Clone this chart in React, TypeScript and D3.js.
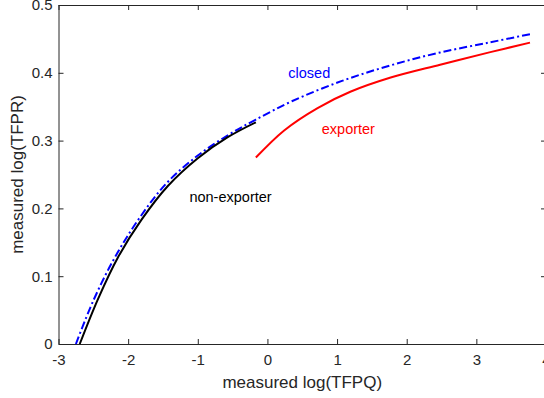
import * as d3 from "d3";
import { useEffect, useRef } from "react";

// measured log(TFPQ) / log(TFPR)
const nonExpX = [-2.695, -2.43, -2.145, -1.81, -1.43, -1.0, -0.57, -0.166];
const nonExpY = [0.0, 0.067, 0.128, 0.183, 0.233, 0.274, 0.305, 0.327];

const closedX = [-2.75, -2.5, -2.2, -1.85, -1.45, -1.0, -0.55, -0.166, 0.35, 1.07, 1.77, 2.48, 3.2, 3.77];
const closedY = [0.0, 0.064, 0.126, 0.184, 0.237, 0.278, 0.309, 0.331, 0.358, 0.388, 0.411, 0.43, 0.445, 0.457];

const expX = [-0.166, 0.24, 0.72, 1.19, 1.77, 2.48, 3.2, 3.77];
const expY = [0.275, 0.315, 0.348, 0.372, 0.393, 0.412, 0.4305, 0.4445];

const xTicks = [-3, -2, -1, 0, 1, 2, 3, 4];
const yTicks = [0, 0.1, 0.2, 0.3, 0.4, 0.5];

const labels = [
  { text: "closed", x: 0.3, y: 0.392, color: "#0000ff" },
  { text: "exporter", x: 0.78, y: 0.31, color: "#ff0000" },
  { text: "non-exporter", x: -1.12, y: 0.21, color: "#000000" },
];

type Pt = [number, number];
const zip = (xs: number[], ys: number[]): Pt[] => xs.map((v, i) => [v, ys[i]]);

export default function App() {
  const ref = useRef<HTMLDivElement>(null);

  useEffect(() => {
    if (!ref.current) return;
    ref.current.innerHTML = "";

    const W = 544, H = 398;
    const left = 58.5, right = 546, top = 5, bottom = 344;
    const axisColor = "#262626";
    const font = "'Liberation Sans', Arial, Helvetica, sans-serif";

    const svg = d3
      .select(ref.current)
      .append("svg")
      .attr("width", W)
      .attr("height", H)
      .style("display", "block")
      .style("font-family", font);

    svg.append("rect").attr("width", W).attr("height", H).attr("fill", "#fff");

    const x = d3.scaleLinear().domain([-3, 4]).range([left, right]);
    const y = d3.scaleLinear().domain([0, 0.5]).range([bottom, top]);

    const styleAxis = (g: d3.Selection<SVGGElement, unknown, null, undefined>) => {
      g.selectAll("path").attr("stroke", axisColor);
      g.selectAll("line").attr("stroke", axisColor);
      g.selectAll("text")
        .attr("fill", axisColor)
        .style("font-size", "15px")
        .style("font-family", font);
    };

    svg.append("g")
      .attr("transform", `translate(0,${bottom})`)
      .call(d3.axisBottom(x).tickValues(xTicks).tickSizeInner(-5).tickSizeOuter(0).tickPadding(10).tickFormat((d) => String(+d)))
      .call(styleAxis);

    svg.append("g")
      .attr("transform", `translate(0,${top})`)
      .call(d3.axisTop(x).tickValues(xTicks).tickSizeInner(-5).tickSizeOuter(0).tickFormat(() => ""))
      .call(styleAxis);

    svg.append("g")
      .attr("transform", `translate(${left},0)`)
      .call(d3.axisLeft(y).tickValues(yTicks).tickSizeInner(-5).tickSizeOuter(0).tickPadding(6).tickFormat((d) => String(+d)))
      .call(styleAxis);

    svg.append("g")
      .attr("transform", `translate(${right},0)`)
      .call(d3.axisRight(y).tickValues(yTicks).tickSizeInner(-5).tickSizeOuter(0).tickFormat(() => ""))
      .call(styleAxis);

    const line = d3
      .line<Pt>()
      .x((d) => x(d[0]))
      .y((d) => y(d[1]))
      .curve(d3.curveCatmullRom.alpha(0.5));

    svg.append("path")
      .datum(zip(closedX, closedY))
      .attr("fill", "none")
      .attr("stroke", "#0000ff")
      .attr("stroke-width", 2)
      .attr("stroke-dasharray", "8,3,2,3")
      .attr("d", line);

    svg.append("path")
      .datum(zip(nonExpX, nonExpY))
      .attr("fill", "none")
      .attr("stroke", "#000000")
      .attr("stroke-width", 2)
      .attr("d", line);

    svg.append("path")
      .datum(zip(expX, expY))
      .attr("fill", "none")
      .attr("stroke", "#ff0000")
      .attr("stroke-width", 2)
      .attr("d", line);

    labels.forEach((l) => {
      svg.append("text")
        .attr("x", x(l.x))
        .attr("y", y(l.y))
        .attr("fill", l.color)
        .style("font-size", "14.5px")
        .text(l.text);
    });

    svg.append("text")
      .attr("x", (left + right) / 2)
      .attr("y", 388)
      .attr("text-anchor", "middle")
      .attr("fill", axisColor)
      .style("font-size", "17px")
      .text("measured log(TFPQ)");

    svg.append("text")
      .attr("transform", `translate(23,${(top + bottom) / 2}) rotate(-90)`)
      .attr("text-anchor", "middle")
      .attr("fill", axisColor)
      .style("font-size", "17px")
      .text("measured log(TFPR)");
  });

  return (
    <div style={{ position: "fixed", left: 0, top: 0 }}>
      <div ref={ref}></div>
    </div>
  );
}
